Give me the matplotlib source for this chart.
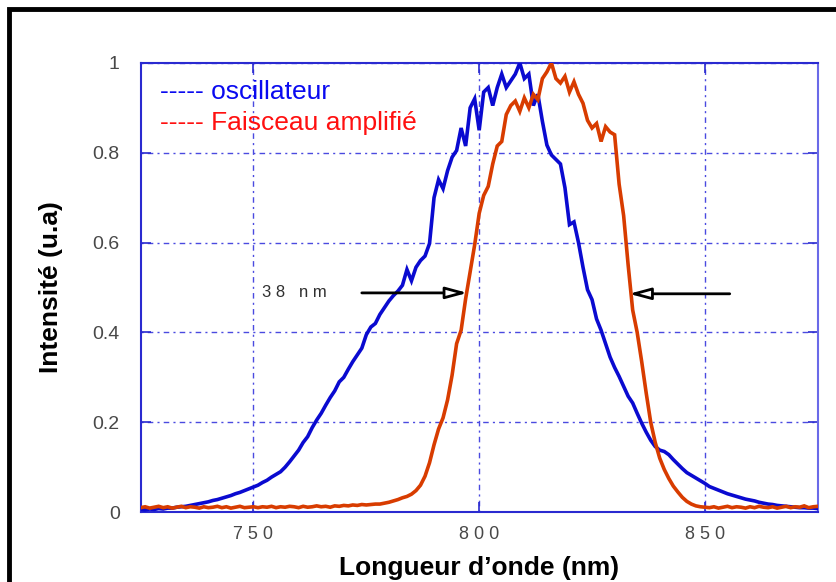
import numpy as np
import matplotlib
matplotlib.use("Agg")
import matplotlib.pyplot as plt
from matplotlib.patches import Rectangle

# ---- data, 1 nm steps from 725 to 875 nm ----
wavelength_start = 725
wavelength_stop = 875

oscillateur = [
    0.006, 0.005, 0.007, 0.006, 0.008, 0.007, 0.009, 0.009, 0.011, 0.012,  # 725-734
    0.013, 0.015, 0.017, 0.019, 0.021, 0.023, 0.026, 0.028, 0.031, 0.034,  # 735-744
    0.037, 0.041, 0.044, 0.048, 0.052, 0.056, 0.060, 0.066, 0.071, 0.078,  # 745-754
    0.084, 0.090, 0.100, 0.112, 0.125, 0.138, 0.155, 0.168, 0.188, 0.205,  # 755-764
    0.220, 0.238, 0.255, 0.270, 0.290, 0.300, 0.318, 0.335, 0.350, 0.365,  # 765-774
    0.395, 0.412, 0.420, 0.440, 0.455, 0.470, 0.482, 0.492, 0.505, 0.540,  # 775-784
    0.515, 0.545, 0.560, 0.570, 0.598, 0.700, 0.740, 0.720, 0.760, 0.790,  # 785-794
    0.805, 0.855, 0.815, 0.900, 0.920, 0.850, 0.935, 0.945, 0.905, 0.945,  # 795-804
    0.975, 0.945, 0.960, 0.975, 1.000, 0.965, 0.975, 0.905, 0.930, 0.870,  # 805-814
    0.817, 0.795, 0.785, 0.775, 0.722, 0.640, 0.646, 0.600, 0.545, 0.495,  # 815-824
    0.473, 0.430, 0.405, 0.375, 0.345, 0.322, 0.302, 0.280, 0.258, 0.243,  # 825-834
    0.220, 0.198, 0.178, 0.160, 0.146, 0.138, 0.135, 0.128, 0.117, 0.107,  # 835-844
    0.097, 0.088, 0.082, 0.076, 0.070, 0.064, 0.057, 0.053, 0.049, 0.045,  # 845-854
    0.041, 0.038, 0.035, 0.032, 0.029, 0.027, 0.025, 0.022, 0.020, 0.018,  # 855-864
    0.017, 0.015, 0.014, 0.013, 0.012, 0.011, 0.010, 0.010, 0.009, 0.009,  # 865-874
    0.008,                                                                  # 875
]

faisceau_amplifie = [
    0.010, 0.012, 0.009, 0.011, 0.013, 0.010, 0.012, 0.009, 0.011, 0.013,  # 725-734
    0.010, 0.012, 0.011, 0.009, 0.012, 0.010, 0.011, 0.013, 0.010, 0.012,  # 735-744
    0.009, 0.011, 0.013, 0.010, 0.011, 0.012, 0.010, 0.012, 0.011, 0.013,  # 745-754
    0.010, 0.012, 0.011, 0.013, 0.012, 0.010, 0.013, 0.011, 0.012, 0.014,  # 755-764
    0.012, 0.013, 0.011, 0.014, 0.013, 0.015, 0.014, 0.016, 0.015, 0.017,  # 765-774
    0.016, 0.017, 0.018, 0.018, 0.020, 0.022, 0.025, 0.028, 0.032, 0.035,  # 775-784
    0.040, 0.048, 0.060, 0.080, 0.110, 0.150, 0.185, 0.210, 0.250, 0.305,  # 785-794
    0.375, 0.405, 0.475, 0.535, 0.595, 0.665, 0.705, 0.725, 0.775, 0.815,  # 795-804
    0.825, 0.885, 0.905, 0.915, 0.892, 0.922, 0.900, 0.930, 0.918, 0.965,  # 805-814
    0.980, 1.000, 0.965, 0.955, 0.970, 0.935, 0.958, 0.930, 0.910, 0.872,  # 815-824
    0.855, 0.865, 0.825, 0.858, 0.846, 0.840, 0.730, 0.660, 0.550, 0.450,  # 825-834
    0.400, 0.335, 0.265, 0.200, 0.155, 0.120, 0.095, 0.075, 0.058, 0.045,  # 835-844
    0.033, 0.024, 0.018, 0.014, 0.012, 0.011, 0.010, 0.012, 0.009, 0.011,  # 845-854
    0.013, 0.010, 0.012, 0.011, 0.009, 0.012, 0.010, 0.013, 0.011, 0.010,  # 855-864
    0.012, 0.009, 0.011, 0.013, 0.010, 0.012, 0.011, 0.014, 0.010, 0.012,  # 865-874
    0.013,                                                                  # 875
]

x_ticks = [750, 800, 850]
x_tick_labels = ["7 5 0", "8 0 0", "8 5 0"]
y_ticks = [0, 0.2, 0.4, 0.6, 0.8, 1.0]
y_tick_labels = ["0", "0.2", "0.4", "0.6", "0.8", "1"]

legend_labels = ["----- oscillateur", "----- Faisceau amplifié"]
annotation_text = "3 8   n m"

wavelengths = np.arange(wavelength_start, wavelength_stop + 1)

# ---- style ----
plt.rcParams['font.family'] = ['Liberation Sans', 'DejaVu Sans']
BLUE_LINE = '#0a0ad0'
RED_LINE = '#d83c00'
AXIS_BLUE = '#2a2ad0'
GRID_BLUE = '#4a4ae0'
TICK_GREY = '#484848'

fig = plt.figure(figsize=(8.37, 5.82), dpi=100)
ax = fig.add_axes([0.168, 0.120, 0.809, 0.772])

ax.plot(wavelengths, oscillateur, color=BLUE_LINE, lw=2.6, solid_joinstyle='miter', zorder=3)
ax.plot(wavelengths, faisceau_amplifie, color=RED_LINE, lw=2.6, solid_joinstyle='miter', zorder=3)

ax.set_xlim(725, 875)
ax.set_ylim(0, 1)
ax.set_xticks(x_ticks)
ax.set_xticklabels(x_tick_labels)
ax.set_yticks(y_ticks)
ax.set_yticklabels(y_tick_labels)

for s in ax.spines.values():
    s.set_color(AXIS_BLUE)
    s.set_linewidth(1.5)
ax.spines['right'].set_color('#6a6ae8')

ax.tick_params(axis='both', direction='in', length=7, width=1.2, color=AXIS_BLUE,
               top=True, right=True, labelsize=13, labelcolor=TICK_GREY)
ax.tick_params(axis='x', pad=10)
ax.tick_params(axis='y', pad=15, labelsize=14)

ax.grid(True, color=GRID_BLUE, linestyle=(0, (1.5, 3, 4, 3)), linewidth=1.0, zorder=1)

ax.set_xlabel("Longueur d’onde (nm)", fontsize=19, fontweight='bold', labelpad=9)
ax.set_ylabel("Intensité (u.a)", fontsize=19, fontweight='bold', labelpad=21)

# legend as text lines
ax.text(0.028, 0.936, legend_labels[0], transform=ax.transAxes, color='#0a0af0',
        fontsize=19, va='center', ha='left')
ax.text(0.028, 0.867, legend_labels[1], transform=ax.transAxes, color='#ff1010',
        fontsize=19, va='center', ha='left')

# FWHM annotation
ax.text(751.8, 0.488, annotation_text, color='#303030', fontsize=12, va='center', ha='left')
ax.annotate("", xy=(797.4, 0.488), xytext=(774.0, 0.488),
            arrowprops=dict(arrowstyle='-|>,head_length=1.3,head_width=0.35',
                            fc='white', ec='black', lw=2.0, shrinkA=0, shrinkB=0),
            zorder=5)
ax.annotate("", xy=(833.2, 0.486), xytext=(855.5, 0.486),
            arrowprops=dict(arrowstyle='-|>,head_length=1.3,head_width=0.35',
                            fc='white', ec='black', lw=2.0, shrinkA=0, shrinkB=0),
            zorder=5)

# thick black frame around the figure (right/bottom cut off)
fig.patches.append(Rectangle((0.0105, -0.1), 1.2, 1.1 - 0.0155, transform=fig.transFigure,
                             fill=False, ec='black', lw=3.5))

fig.savefig("out.png", dpi=100)
